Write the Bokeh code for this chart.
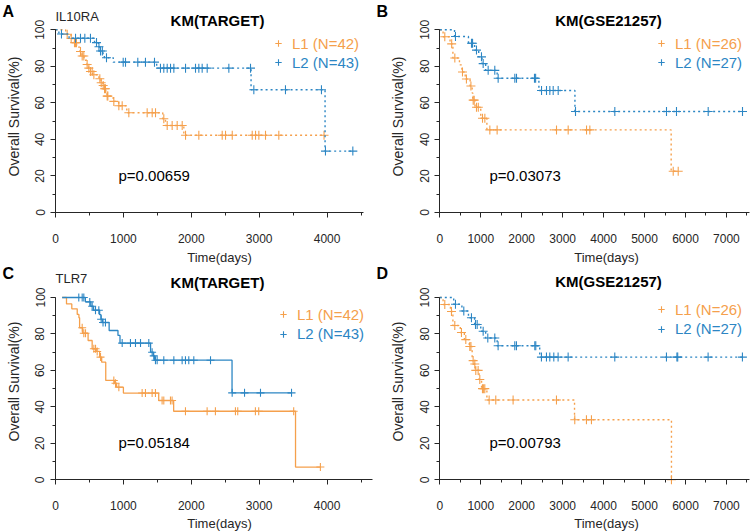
import numpy as np
from bokeh.plotting import figure
from bokeh.models import Range1d, SingleIntervalTicker, Label, Legend, LegendItem
from bokeh.layouts import column, row
from bokeh.embed import file_html
from bokeh.resources import INLINE

FONT = "Liberation Sans"
ORANGE = "#F5A04C"
BLUE = "#2C86C4"
AXIS = "#262626"

# ---------------- Panel A : IL10RA, KM(TARGET) ----------------
A_L1_t = [0, 150, 230, 280, 310, 360, 390, 420, 460, 490, 515, 545, 640, 670, 700, 720, 740, 760, 850, 930, 1050, 1580, 1620, 1890]
A_L1_s = [100, 97.6, 95.2, 92.9, 90.5, 88.1, 85.7, 83.3, 81.0, 79.0, 77.2, 75.4, 73.2, 71.0, 69.5, 67.7, 65.9, 63.7, 60.8, 58.4, 54.6, 51.3, 47.6, 42.3]
A_L1_c = [172, 231, 280, 295, 309, 368, 393, 417, 466, 491, 515, 540, 565, 653, 673, 702, 722, 736, 761, 771, 859, 933, 982, 1080,
          1350, 1424, 1473, 1595, 1645, 1718, 1792, 1866, 1915, 2111, 2455, 2504, 2603, 2897, 2946, 2995, 3093, 3289, 3955]
A_L1_end = 3955
A_L2_t = [0, 50, 200, 575, 630, 650, 700, 720, 850, 1490, 2880, 3970]
A_L2_s = [100, 97.7, 95.4, 93.0, 90.7, 88.4, 86.0, 84.7, 82.3, 79.0, 67.2, 33.6]
A_L2_c = [88, 295, 368, 432, 515, 604, 640, 663, 690, 751, 997, 1031, 1212, 1325, 1458, 1546, 1595, 1645, 1694, 1743,
          1915, 2062, 2111, 2160, 2234, 2553, 2872, 2921, 3387, 3917, 3976, 4379]
A_L2_end = 4379

# ---------------- Panel B : KM(GSE21257) ----------------
B_L1_t = [0, 80, 250, 320, 480, 540, 620, 740, 790, 805, 860, 1000, 1150, 5650]
B_L1_s = [100, 96.2, 92.3, 84.6, 80.8, 76.9, 73.1, 69.2, 65.4, 61.5, 57.6, 51.6, 45.2, 22.6]
B_L1_c = [122, 290, 367, 554, 650, 760, 815, 840, 896, 940, 1043, 1100, 1222, 1400, 2850, 3135, 3583, 3664, 5700, 5822]
B_L1_end = 5822
B_L2_t = [0, 360, 700, 850, 950, 1030, 1120, 1400, 2420, 3300]
B_L2_s = [100, 96.3, 92.6, 88.9, 85.2, 81.5, 77.8, 73.5, 66.8, 55.3]
B_L2_c = [383, 774, 800, 896, 1018, 1059, 1181, 1343, 1425, 1832, 1873, 2312, 2340, 2484, 2606, 2687, 2769, 2891,
          3314, 4274, 5536, 5780, 6554, 7392]
B_L2_end = 7392

# ---------------- Panel C : TLR7, KM(TARGET) ----------------
C_L1_t = [98, 162, 240, 320, 345, 355, 400, 480, 540, 600, 650, 680, 740, 870, 900, 1000, 1520, 1740, 3535]
C_L1_s = [100, 96.5, 93.8, 90.7, 88.9, 83.4, 80.4, 76.4, 71.9, 70.4, 67.3, 64.5, 54.5, 53.0, 50.8, 47.6, 43.5, 37.6, 7.0]
C_L1_c = [393, 417, 442, 565, 590, 614, 663, 859, 884, 933, 1276, 1325, 1423, 1472, 1570, 1595, 1693, 1717,
          1914, 2233, 2355, 2650, 2684, 2944, 2993, 3508, 3901]
C_L1_end = 3901
C_L2_t = [98, 440, 520, 560, 650, 670, 690, 790, 920, 950, 1400, 1440, 1460, 2600]
C_L2_s = [100, 97.6, 95.2, 93.0, 90.6, 88.1, 86.3, 81.9, 79.2, 75.0, 70.0, 68.0, 65.6, 47.7]
C_L2_c = [343, 393, 417, 505, 540, 589, 638, 672, 700, 736, 982, 1104, 1178, 1252, 1374, 1423, 1447, 1472, 1497,
          1595, 1743, 1865, 1914, 1963, 2037, 2283, 2602, 2784, 3019, 3476]
C_L2_end = 3476

# ---------------- Panel D : KM(GSE21257) ----------------
D_L1_t = [0, 80, 260, 320, 500, 600, 720, 790, 820, 870, 960, 1020, 1150, 3290, 5657]
D_L1_s = [100, 96.2, 92.3, 84.6, 80.8, 76.9, 73.1, 65.4, 63.5, 60.0, 55.0, 50.0, 43.8, 32.9, 0]
D_L1_c = [122, 285, 366, 529, 635, 733, 760, 814, 855, 879, 936, 977, 1042, 1070, 1099, 1205, 1367, 1790, 2849,
          3296, 3581, 3703, 5657]
D_L1_end = 5657
D_L2_t = [0, 340, 540, 700, 850, 1000, 1120, 1400, 2440]
D_L2_s = [100, 96.3, 92.6, 88.9, 85.2, 81.5, 77.8, 73.5, 67.3]
D_L2_c = [383, 586, 773, 872, 913, 1059, 1172, 1343, 1424, 1831, 1872, 2320, 2344, 2482, 2605, 2686, 2784, 2889,
          3134, 4273, 5535, 5790, 5810, 6552, 7390]
D_L2_end = 7390

legend_labels = {"A": ("L1 (N=42)", "L2 (N=43)"), "B": ("L1 (N=26)", "L2 (N=27)"),
                 "C": ("L1 (N=42)", "L2 (N=43)"), "D": ("L1 (N=26)", "L2 (N=27)")}
titles = {"A": "KM(TARGET)", "B": "KM(GSE21257)", "C": "KM(TARGET)", "D": "KM(GSE21257)"}
genes = {"A": "IL10RA", "B": "", "C": "TLR7", "D": ""}
pvals = {"A": "p=0.00659", "B": "p=0.03073", "C": "p=0.05184", "D": "p=0.00793"}
x_label = "Time(days)"
y_label = "Overall Survival(%)"

W, H = 376, 266


def surv_at(t, s, c):
    idx = np.searchsorted(np.asarray(t, float), np.asarray(c, float), side="right") - 1
    return np.asarray(s, float)[idx]


def make_panel(key, series, xmax, L):
    ax_px, kx, y0_px, ky = L["ax_px"], L["kx"], L["y0_px"], L["ky"]
    p = figure(width=W, height=H, output_backend="svg", toolbar_location=None, title=None,
               x_range=Range1d(-ax_px / kx, (W - ax_px) / kx),
               y_range=Range1d(-(H - y0_px) / ky, y0_px / ky),
               min_border_left=0, min_border_right=0, min_border_top=0, min_border_bottom=0)
    p.outline_line_color = None
    p.xgrid.visible = False
    p.ygrid.visible = False
    p.background_fill_color = "white"
    p.border_fill_color = "white"

    p.xaxis.ticker = SingleIntervalTicker(interval=1000, num_minor_ticks=2)
    p.yaxis.ticker = SingleIntervalTicker(interval=20, num_minor_ticks=2)
    p.xaxis.fixed_location = 0
    p.yaxis.fixed_location = 0
    p.xaxis.bounds = (0, xmax)
    p.yaxis.bounds = (0, 100)
    for ax in (p.xaxis[0], p.yaxis[0]):
        ax.axis_line_color = AXIS
        ax.axis_line_width = 1
        ax.major_tick_line_color = AXIS
        ax.minor_tick_line_color = AXIS
        ax.major_tick_out = 5
        ax.major_tick_in = 0
        ax.minor_tick_out = 3
        ax.minor_tick_in = 0
        ax.major_label_text_font = FONT
        ax.major_label_text_font_size = "12px"
        ax.major_label_text_color = AXIS
    p.xaxis.major_label_standoff = 16
    p.yaxis.major_label_orientation = "vertical"
    p.yaxis.major_label_standoff = 6

    solid = L["solid"]
    for (t, s, c, end, color), lab, (lx, ly) in zip(series, legend_labels[key], L["legend"]):
        xs = list(t) + [end]
        ys = list(s) + [s[-1]]
        if solid:
            p.step(xs, ys, mode="after", line_color=color, line_width=1.3)
        else:
            p.step(xs, ys, mode="after", line_color=color, line_width=1.4, line_dash="2 3")
        r = p.scatter(c, surv_at(t, s, c), marker="cross", size=8 if solid else 9,
                      line_color=color, line_width=1.1)
        leg = Legend(items=[LegendItem(label=lab, renderers=[r])], location=(lx, ly),
                     padding=0, margin=0, spacing=0, glyph_width=16, glyph_height=20,
                     label_height=20, label_standoff=6, border_line_color=None,
                     background_fill_alpha=0, label_text_font=FONT,
                     label_text_font_size="15px", label_text_color=color)
        p.add_layout(leg)

    def lab(xy, text, size, style="normal", align="left", angle=0.0, color="black"):
        p.add_layout(Label(x=xy[0], y=xy[1], x_units="screen", y_units="screen", text=text,
                           text_font=FONT, text_font_size=size, text_font_style=style,
                           text_align=align, text_baseline="middle", angle=angle,
                           text_color=color))

    lab(L["title"], titles[key], "15px", "bold", "center")
    lab(L["p"], pvals[key], "15px")
    if genes[key]:
        lab(L["gene"], genes[key], "13px", color=AXIS)
    lab(L["letter"], key, "16px", "bold")
    lab(L["xlab"], x_label, "13px", align="center", color=AXIS)
    lab(L["ylab"], y_label, "14px", align="center", angle=np.pi / 2, color=AXIS)
    return p


pa = make_panel("A", [(A_L1_t, A_L1_s, A_L1_c, A_L1_end, ORANGE), (A_L2_t, A_L2_s, A_L2_c, A_L2_end, BLUE)], 4540,
                dict(ax_px=55, kx=0.0679, y0_px=212, ky=1.827, solid=False,
                     legend=[(270, 213), (270, 194)], title=(217, 246), p=(118, 91),
                     gene=(55, 250), letter=(2, 255), xlab=(219, 9), ylab=(13, 150)))
pb = make_panel("B", [(B_L1_t, B_L1_s, B_L1_c, B_L1_end, ORANGE), (B_L2_t, B_L2_s, B_L2_c, B_L2_end, BLUE)], 7556,
                dict(ax_px=63.3, kx=0.04095, y0_px=212, ky=1.827, solid=False,
                     legend=[(277, 213), (277, 194)], title=(232, 246), p=(113, 91),
                     gene=(0, 0), letter=(0, 255), xlab=(230, 9), ylab=(21, 150)))
pc = make_panel("C", [(C_L1_t, C_L1_s, C_L1_c, C_L1_end, ORANGE), (C_L2_t, C_L2_s, C_L2_c, C_L2_end, BLUE)], 4664,
                dict(ax_px=55, kx=0.0679, y0_px=213.3, ky=1.823, solid=True,
                     legend=[(275, 208), (275, 188.5)], title=(217, 250), p=(118, 90),
                     gene=(55, 254), letter=(2, 259), xlab=(219, 9), ylab=(13, 151)))
pd_ = make_panel("D", [(D_L1_t, D_L1_s, D_L1_c, D_L1_end, ORANGE), (D_L2_t, D_L2_s, D_L2_c, D_L2_end, BLUE)], 7556,
                 dict(ax_px=63.3, kx=0.04095, y0_px=213.3, ky=1.823, solid=False,
                      legend=[(277, 213), (277, 193.5)], title=(232, 251), p=(113, 90),
                      gene=(0, 0), letter=(0, 259), xlab=(230, 9), ylab=(21, 151)))

layout = column(row(pa, pb), row(pc, pd_))
open("out.html", "w").write(file_html(layout, INLINE))
